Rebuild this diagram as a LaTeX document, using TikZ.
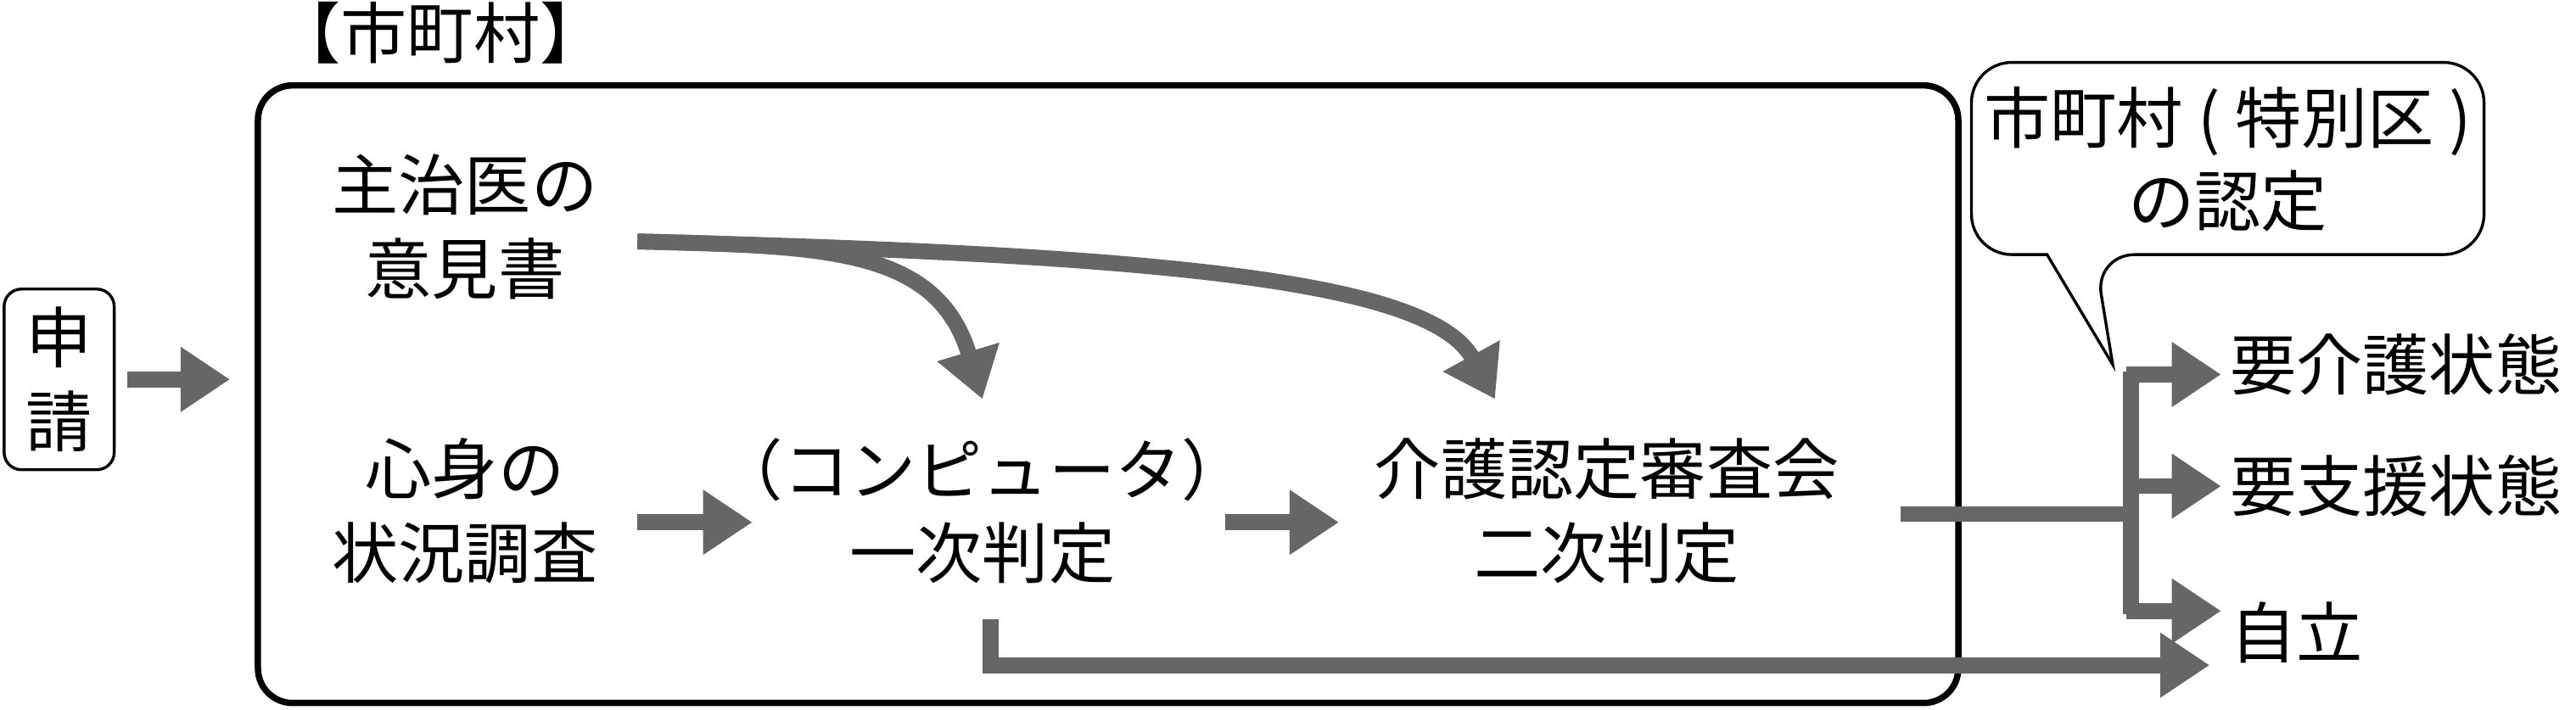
\documentclass[tikz,border=0pt]{standalone}
\usepackage{fontspec}
\setmainfont{Noto Sans CJK JP}
\usetikzlibrary{arrows.meta}
\definecolor{ag}{HTML}{666666}
\begin{document}
\begin{tikzpicture}[x=0.02cm,y=-0.02cm,
  t/.style={font=\fontsize{23}{29}\selectfont,align=center,inner sep=0pt},
  ar/.style={draw=ag,line width=5.5pt,-{Triangle[length=0.6cm,width=0.75cm]}},
  ln/.style={draw=ag,line width=5.5pt}]
\useasboundingbox (0,0) rectangle (1568,432);
\node[t] (city) at (268,20) {【市町村】};
\draw[line width=2.2pt,rounded corners=12pt] (157,52) rectangle (1192,428);
\node[t,draw,line width=1pt,rounded corners=6pt,minimum width=1.34cm,minimum height=2.2cm] (app) at (36,231) {申\\請};
\coordinate (a1) at (140,231);
\draw[ar] (app.east) ++(4pt,0) -- (a1);
\node[t] (doc) at (283,138) {主治医の\\意見書};
\node[t] (sur) at (283,311) {心身の\\状況調査};
\node[t] (one) at (598,311) {（コンピュータ）\\一次判定};
\node[t] (two) at (978,311) {介護認定審査会\\二次判定};
\coordinate (d0) at (388,147);
\draw[ar] (d0) .. controls (500,150) and (570,150) .. (598,243);
\draw[ar] (d0) .. controls (700,155) and (870,170) .. (910,243);
\draw[ar] (388,318) -- (458,318);
\draw[ar] (746,318) -- (815,318);
\coordinate (br) at (1297,313);
\draw[ln] (1157,313) -- (br);
\draw[ln] (1297,226) -- (1297,374);
\node[t,anchor=west] (r1) at (1357,222) {要介護状態};
\node[t,anchor=west] (r2) at (1357,296) {要支援状態};
\node[t,anchor=west] (r3) at (1357,385) {自立};
\draw[ar] (1294,228) -- (1352,228);
\draw[ar] (1294,296) -- (1352,296);
\draw[ar] (1294,372) -- (1352,372);
\draw[ar] (603,377) |- (1345,405);
\draw[line width=1pt,fill=white,rounded corners=14pt] (1200,155) -- (1200,38) -- (1512,38) -- (1512,155) -- (1275,155)[sharp corners] -- (1286,222) -- (1246,155)[rounded corners=14pt] -- cycle;
\node[t] (cl) at (1356,97) {市町村 ( 特別区 )\\の認定};
\end{tikzpicture}
\end{document}
